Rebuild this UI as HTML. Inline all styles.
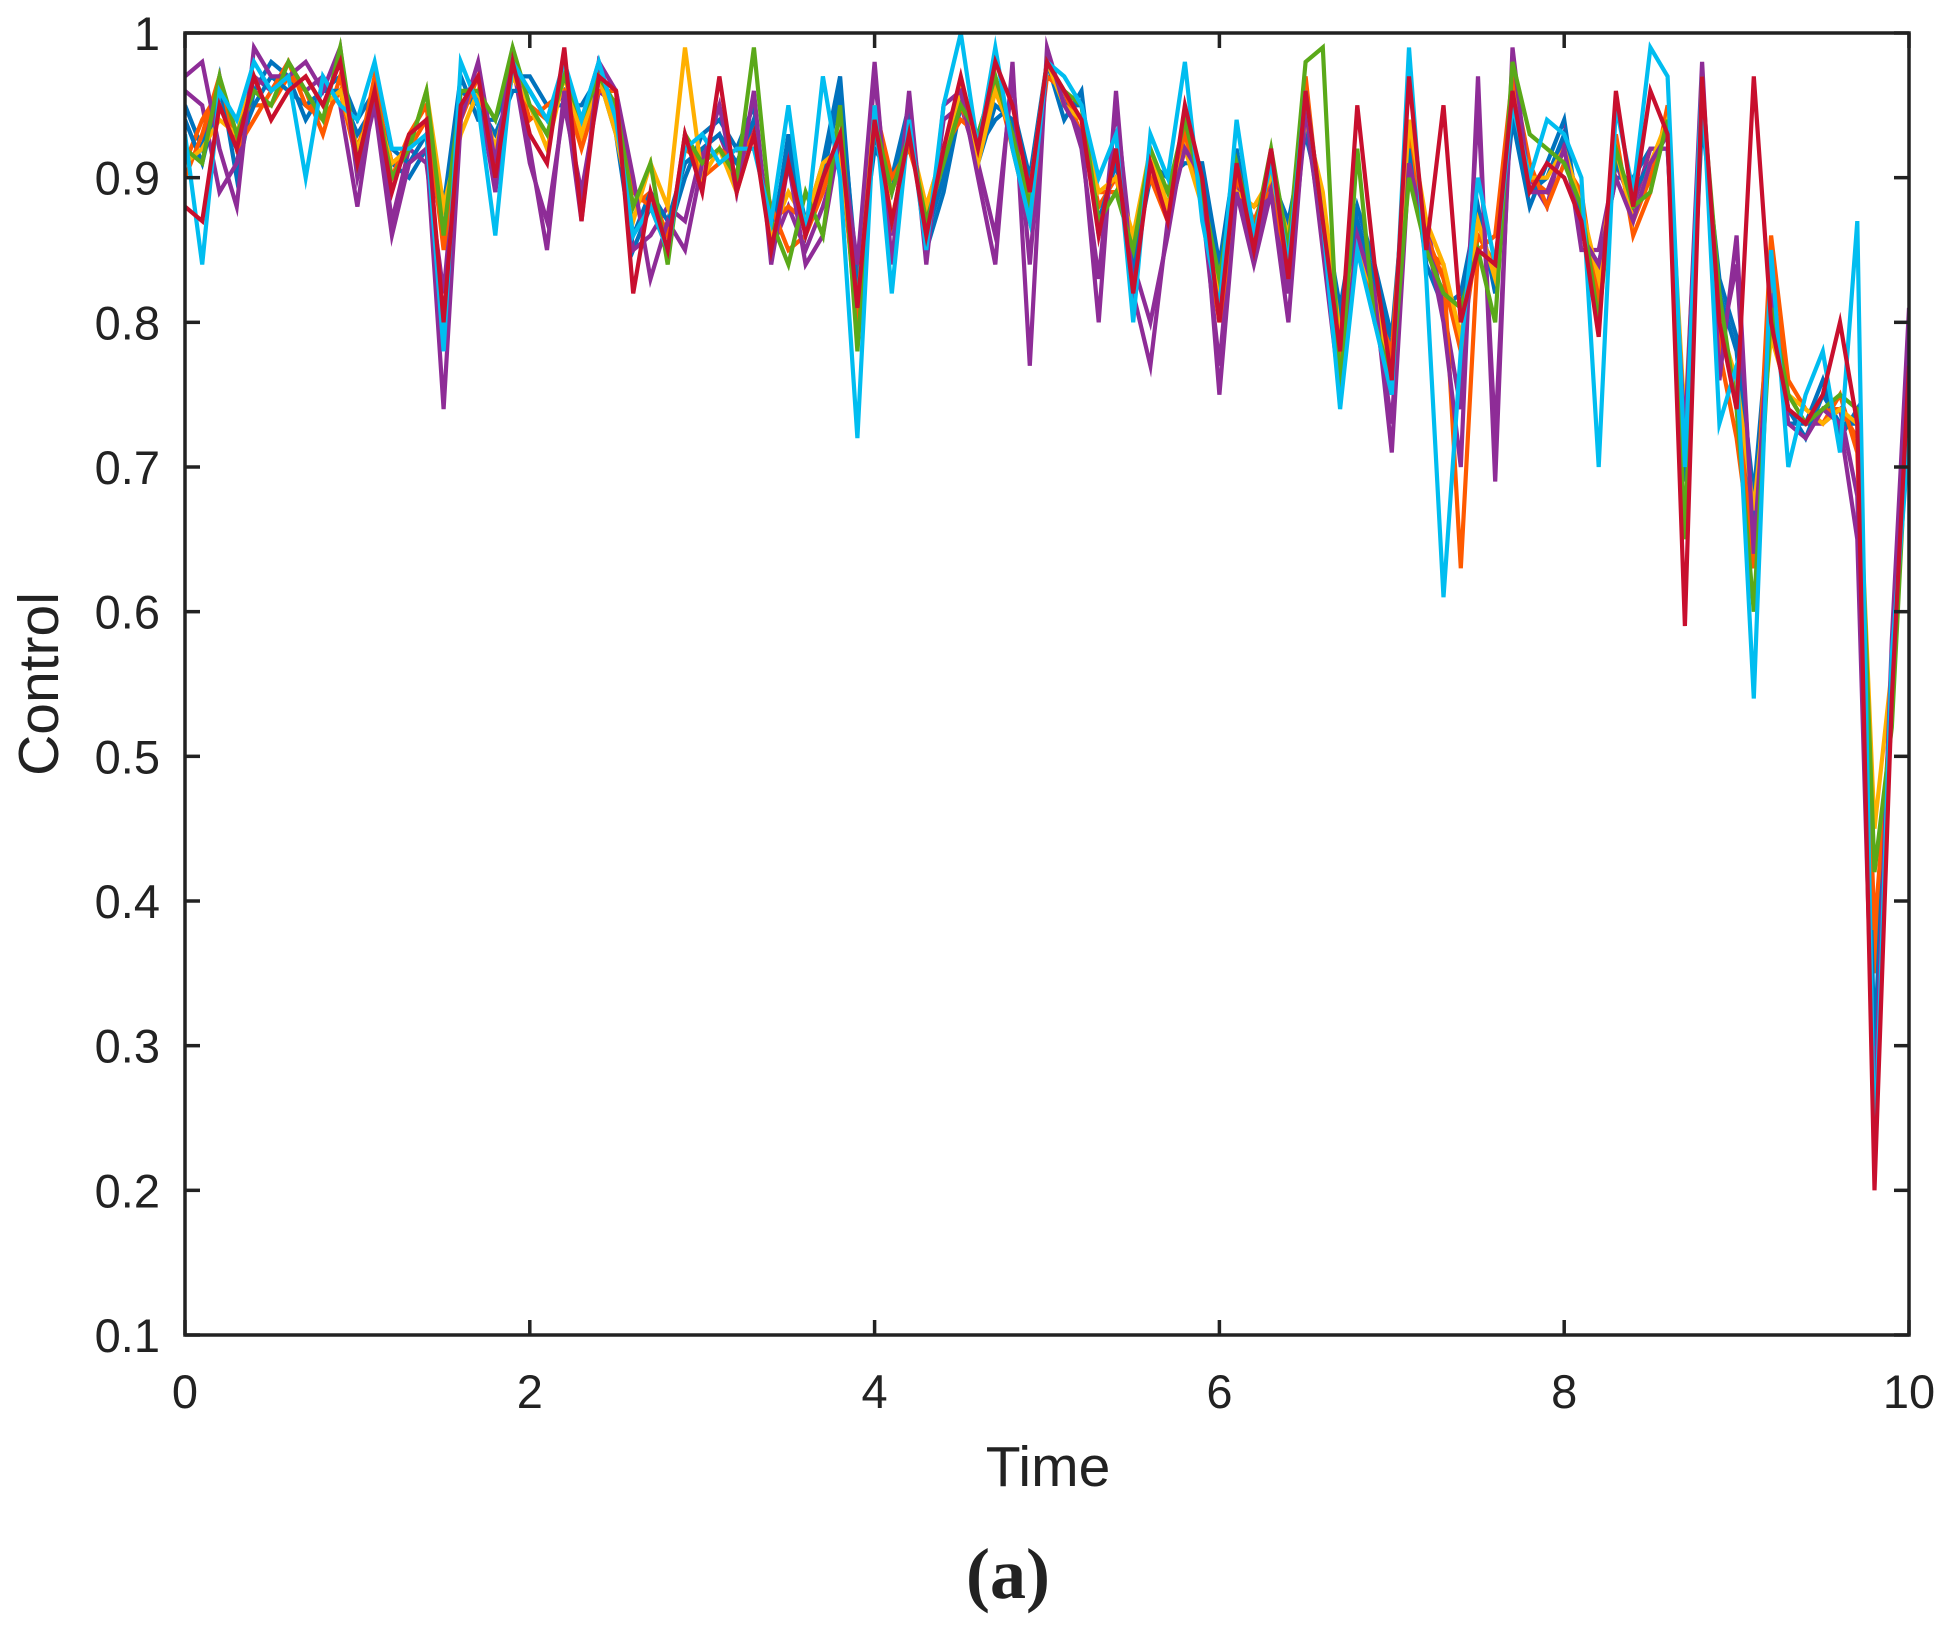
<!DOCTYPE html>
<html><head><meta charset="utf-8"><style>
html,body{margin:0;padding:0;background:#fff;}
svg{display:block;}
text{font-family:"Liberation Sans",Arial,sans-serif;fill:#222;}
</style></head><body>
<svg id="chart" width="1956" height="1629" viewBox="0 0 1956 1629" xmlns="http://www.w3.org/2000/svg">
<defs><clipPath id="pc"><rect x="185" y="33" width="1724" height="1302"/></clipPath></defs>
<g id="series" clip-path="url(#pc)"></g>
<rect x="185" y="33" width="1724" height="1302" fill="none" stroke="#222" stroke-width="3.5"/>
<g id="ticks"></g>
<text x="1048" y="1486" font-size="57" text-anchor="middle">Time</text>
<text transform="translate(58,684) rotate(-90)" font-size="57" text-anchor="middle">Control</text>
<text x="1008" y="1598" font-size="72" font-weight="bold" text-anchor="middle" style="font-family:'Liberation Serif',serif">(a)</text>
</svg>
<script>
const xTicks=[0,2,4,6,8,10];
const yTicks=[0.1,0.2,0.3,0.4,0.5,0.6,0.7,0.8,0.9,1];
const yTickLabels=["0.1","0.2","0.3","0.4","0.5","0.6","0.7","0.8","0.9","1"];
const colors=["#0072BD","#FF5A00","#FFB000","#8E2C97","#5AA919","#00BDF0","#C80F2E","#0072BD","#8E2C97","#FF5A00"];
const s1=[.94,.91,.96,.92,.95,.97,.96,.95,.96,.96,.93,.95,.92,.91,.93,.86,.96,.95,.93,.96,.96,.94,.96,.94,.98,.94,.86,.89,.87,.91,.92,.93,.91,.94,.86,.92,.87,.91,.97,.82,.93,.89,.94,.86,.90,.96,.91,.95,.94,.89,.98,.95,.95,.87,.91,.84,.90,.89,.92,.90,.83,.91,.86,.91,.86,.94,.87,.80,.87,.83,.78,.92,.85,.82,.81,.87,.83,.95,.89,.90,.93,.87,.83,.91,.89,.91,.93,.70,.95,.82,.78,.66,.81,.74,.72,.75,.73,.73,.30,.56,.75];
const s2=[.90,.93,.97,.92,.94,.96,.98,.95,.94,.96,.91,.97,.90,.93,.95,.85,.94,.97,.91,.98,.94,.95,.96,.92,.96,.96,.89,.88,.85,.93,.90,.91,.92,.92,.88,.85,.86,.89,.93,.79,.95,.90,.92,.88,.92,.94,.93,.97,.92,.87,.97,.96,.93,.89,.89,.86,.90,.87,.94,.88,.80,.89,.88,.89,.84,.97,.86,.77,.85,.81,.78,.94,.85,.84,.63,.85,.86,.97,.91,.88,.91,.89,.81,.93,.86,.89,.95,.71,.97,.78,.72,.63,.86,.76,.74,.73,.75,.71,.38,.53,.77];
const s3=[.91,.92,.94,.93,.97,.94,.96,.97,.95,.96,.92,.95,.91,.92,.96,.88,.93,.96,.92,.97,.95,.92,.97,.93,.97,.93,.87,.91,.88,.99,.90,.92,.89,.93,.86,.89,.87,.91,.92,.81,.95,.87,.93,.88,.92,.96,.91,.96,.93,.89,.98,.95,.94,.89,.90,.86,.92,.88,.92,.88,.82,.89,.88,.90,.86,.94,.89,.79,.85,.82,.76,.94,.87,.84,.79,.87,.83,.96,.90,.90,.92,.88,.83,.92,.87,.91,.94,.73,.96,.80,.76,.67,.79,.75,.74,.73,.74,.73,.45,.56,.76];
const s4=[.97,.98,.92,.88,.99,.97,.97,.98,.96,.99,.90,.95,.86,.91,.92,.74,.94,.98,.91,.99,.92,.85,.96,.87,.98,.96,.90,.83,.87,.85,.91,.95,.89,.96,.84,.91,.84,.86,.93,.84,.98,.84,.96,.84,.95,.96,.90,.84,.98,.77,.99,.95,.93,.80,.96,.82,.77,.87,.92,.90,.75,.89,.84,.89,.80,.95,.85,.75,.86,.82,.71,.91,.86,.80,.70,.97,.69,.99,.89,.89,.92,.86,.84,.90,.87,.91,.93,.72,.98,.76,.86,.64,.82,.73,.72,.74,.73,.65,.25,.58,.81];
const s5=[.92,.91,.97,.93,.96,.95,.98,.96,.94,.99,.91,.96,.90,.92,.96,.86,.96,.96,.94,.99,.95,.93,.97,.94,.97,.95,.88,.91,.84,.93,.91,.92,.90,.99,.87,.84,.89,.86,.95,.78,.94,.89,.93,.87,.91,.95,.93,.97,.93,.88,.98,.96,.95,.87,.89,.85,.92,.89,.94,.89,.83,.91,.86,.92,.85,.98,.99,.75,.92,.80,.76,.90,.85,.82,.81,.85,.80,.98,.93,.92,.91,.88,.80,.92,.88,.89,.94,.65,.96,.82,.74,.60,.81,.75,.73,.74,.75,.74,.42,.52,.75];
const s6=[.93,.84,.96,.94,.98,.96,.97,.90,.97,.95,.94,.98,.92,.92,.93,.78,.98,.95,.86,.98,.96,.94,.98,.94,.98,.94,.86,.88,.85,.92,.93,.91,.92,.92,.87,.95,.86,.97,.90,.72,.95,.82,.94,.85,.95,1.0,.92,.99,.92,.87,.98,.97,.95,.90,.93,.80,.93,.90,.98,.87,.81,.94,.86,.91,.84,.96,.87,.74,.85,.80,.75,.99,.83,.61,.78,.90,.84,.95,.90,.94,.93,.90,.70,.95,.89,.99,.97,.70,.97,.73,.77,.54,.85,.70,.75,.78,.71,.87,.22,.57,.72];
const s7=[.88,.87,.95,.92,.97,.94,.96,.97,.95,.98,.91,.96,.89,.93,.94,.80,.95,.97,.90,.98,.93,.91,.99,.87,.97,.96,.82,.89,.85,.93,.89,.97,.89,.93,.85,.91,.86,.90,.93,.81,.94,.87,.93,.86,.92,.97,.92,.98,.95,.89,.98,.96,.94,.86,.92,.82,.91,.87,.95,.90,.80,.91,.85,.92,.83,.96,.87,.78,.95,.84,.76,.97,.85,.95,.80,.85,.84,.96,.89,.91,.90,.87,.79,.96,.88,.96,.93,.59,.97,.80,.74,.97,.80,.74,.73,.75,.80,.73,.20,.54,.77];
const s8=[.95,.92,.97,.90,.96,.98,.97,.94,.96,.97,.94,.96,.91,.90,.92,.88,.97,.94,.94,.97,.97,.95,.95,.95,.97,.93,.85,.88,.86,.90,.93,.94,.92,.95,.85,.93,.86,.90,.96,.83,.92,.90,.95,.85,.89,.95,.92,.94,.95,.90,.98,.94,.96,.86,.92,.83,.91,.90,.91,.91,.84,.92,.85,.90,.87,.93,.88,.81,.88,.84,.79,.93,.84,.81,.82,.88,.82,.94,.88,.91,.94,.86,.84,.90,.90,.92,.92,.69,.94,.83,.79,.68,.82,.73,.73,.76,.72,.74,.28,.57,.74];
const s9=[.96,.95,.89,.91,.97,.96,.98,.96,.97,.95,.88,.96,.87,.92,.91,.82,.95,.96,.89,.98,.91,.87,.95,.89,.96,.95,.85,.86,.88,.87,.92,.93,.90,.94,.85,.88,.85,.88,.92,.83,.97,.86,.95,.85,.94,.95,.91,.86,.97,.84,.98,.96,.92,.83,.95,.84,.80,.86,.93,.88,.77,.90,.85,.90,.82,.94,.86,.76,.87,.81,.73,.92,.87,.81,.74,.95,.72,.97,.90,.88,.93,.85,.85,.91,.88,.92,.92,.71,.97,.78,.84,.65,.81,.74,.73,.73,.74,.68,.27,.57,.79];
const s10=[.91,.94,.96,.93,.95,.95,.97,.96,.93,.97,.92,.96,.91,.92,.94,.86,.95,.96,.92,.97,.95,.94,.97,.93,.97,.95,.88,.89,.86,.92,.91,.92,.91,.93,.87,.88,.87,.90,.92,.80,.94,.89,.93,.87,.91,.95,.92,.96,.93,.88,.98,.96,.94,.88,.90,.85,.91,.88,.93,.89,.81,.90,.87,.90,.85,.96,.87,.78,.86,.82,.77,.93,.86,.83,.78,.86,.84,.96,.90,.89,.92,.88,.82,.92,.87,.90,.94,.72,.96,.80,.75,.64,.83,.75,.73,.74,.74,.72,.35,.55,.76];
const seriesList=[s8,s9,s10,s1,s2,s3,s4,s5,s6,s7];
const seriesColors=["#0072BD","#8E2C97","#FF5A00","#0072BD","#FF5A00","#FFB000","#8E2C97","#5AA919","#00BDF0","#C80F2E"];
const dt=0.1;
const NS="http://www.w3.org/2000/svg";
const X0=185,X1=1909,Y0=1335,Y1=33;
function xs(v){return X0+(v-0)/(10-0)*(X1-X0);}
function ys(v){return Y0-(v-0.1)/(1-0.1)*(Y0-Y1);}
const g=document.getElementById('series');
seriesList.forEach((s,i)=>{
  const p=document.createElementNS(NS,'polyline');
  p.setAttribute('points',s.map((v,k)=>xs(k*dt).toFixed(1)+','+ys(v).toFixed(1)).join(' '));
  p.setAttribute('fill','none');p.setAttribute('stroke',seriesColors[i]);
  p.setAttribute('stroke-width','4.2');p.setAttribute('stroke-linejoin','miter');p.setAttribute('stroke-miterlimit','6');
  
  
  g.appendChild(p);
});
const t=document.getElementById('ticks');
function line(x1,y1,x2,y2,name){const l=document.createElementNS(NS,'line');l.setAttribute('x1',x1);l.setAttribute('y1',y1);l.setAttribute('x2',x2);l.setAttribute('y2',y2);l.setAttribute('stroke','#222');l.setAttribute('stroke-width','3.5');


t.appendChild(l);}
function txt(x,y,s,anchor,name){const e=document.createElementNS(NS,'text');e.setAttribute('x',x);e.setAttribute('y',y);e.setAttribute('font-size','47');e.setAttribute('text-anchor',anchor);e.textContent=s;


t.appendChild(e);}
xTicks.forEach(v=>{const x=xs(v);line(x,Y0,x,Y0-15,'x-tick');line(x,Y1,x,Y1+15,'x-tick-top');txt(x,1408,String(v),'middle','x-tick-label');});
yTicks.forEach((v,i)=>{const y=ys(v);line(X0,y,X0+15,y,'y-tick');line(X1,y,X1-15,y,'y-tick-right');txt(160,y+17,yTickLabels[i],'end','y-tick-label');});
</script>
</body></html>
